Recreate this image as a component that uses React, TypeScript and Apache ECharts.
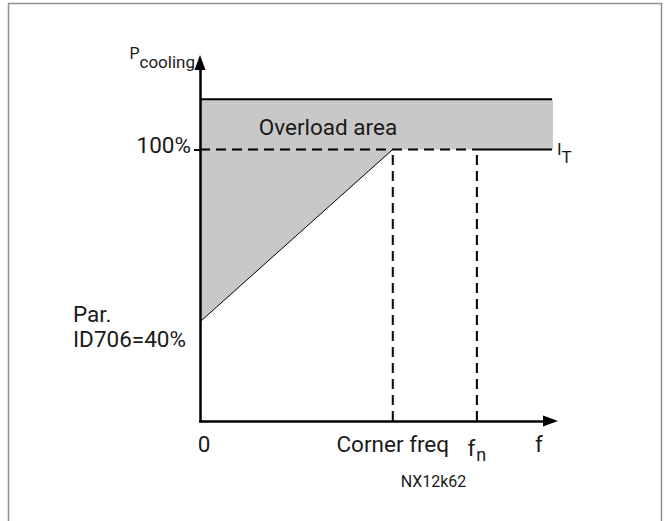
import React, { useEffect, useRef } from "react";
import * as echarts from "echarts";

// ---- values (x: frequency units, y: % cooling power) ----
const xMax = 100;
const yMax = 132;
const cornerFreq = 55;
const nominalFreq = 79;
const overloadEnd = 100.7;
const ratedLevel = 100;
const overloadTop = 118.5;
const minCooling = 36.5;
const overloadLabelPos = [36.5, 108.3];

const xTickValues = [0, cornerFreq, nominalFreq, 96.7];
const xTickLabels = ["{z|0}", "Corner freq", "{b|f}{s|n}", "f"];
const yTickValues = [minCooling, ratedLevel];
const yTickLabels = ["{p|Par.}\n{p|ID706=40%}", "{n|100%}"];

const overloadPolygon = [
  [0, overloadTop],
  [overloadEnd, overloadTop],
  [overloadEnd, ratedLevel],
  [cornerFreq, ratedLevel],
  [0, minCooling],
];
const overloadTopLine = [[0, overloadTop], [overloadEnd, overloadTop]];
const ratedDashedLine = [[0, ratedLevel], [nominalFreq, ratedLevel]];
const ratedSolidLine = [[nominalFreq, ratedLevel], [overloadEnd, ratedLevel]];
const minToCornerLine = [[0, minCooling], [cornerFreq, ratedLevel]];
const cornerVertical = [[cornerFreq, 0], [cornerFreq, ratedLevel]];
const nominalVertical = [[nominalFreq, 0], [nominalFreq, ratedLevel]];

const FONT = "Roboto";
const TEXT = "#1a1a1a";
const FS = 22.5;
const txt = (size: number, extra: any = {}) => ({
  fontFamily: FONT,
  fontSize: size,
  color: TEXT,
  ...extra,
});

const pickLabel = (values: number[], labels: string[], v: number) => {
  let best = 0;
  for (let i = 1; i < values.length; i++) {
    if (Math.abs(values[i] - v) < Math.abs(values[best] - v)) best = i;
  }
  return labels[best];
};

const lineSeries = (data: number[][], width: number, dashed: boolean, extra: any = {}) => ({
  type: "line",
  data,
  symbol: "none",
  clip: false,
  silent: true,
  z: 3,
  lineStyle: { color: "#000", width, type: dashed ? [10, 6] : "solid", cap: "butt" },
  ...extra,
});

export default function App() {
  const ref = useRef<HTMLDivElement>(null);

  useEffect(() => {
    if (!ref.current) return;
    const chart = echarts.init(ref.current, null, { renderer: "svg" });
    chart.setOption({
      animation: false,
      backgroundColor: "#fff",
      grid: {
        left: 200,
        right: 117.5,
        top: 62.5,
        bottom: 100,
        containLabel: false,
        outerBoundsMode: "none",
      },
      xAxis: {
        type: "value",
        min: 0,
        max: xMax,
        z: 10,
        axisLine: {
          show: true,
          onZero: false,
          lineStyle: { color: "#000", width: 2.5 },
          symbol: ["none", "triangle"],
          symbolSize: [11, 15],
        },
        axisTick: { show: false },
        splitLine: { show: false },
        axisLabel: {
          customValues: xTickValues,
          margin: 11,
          fontFamily: FONT,
          fontSize: FS,
          color: TEXT,
          formatter: (v: number) => pickLabel(xTickValues, xTickLabels, v),
          rich: {
            z: txt(FS, { padding: [0, 0, 0, 8] }),
            b: txt(FS),
            s: txt(18, { padding: [13, 0, 0, 1] }),
          },
        },
      },
      yAxis: {
        type: "value",
        min: 0,
        max: yMax,
        z: 10,
        name: "{p|P}{c|cooling}",
        nameLocation: "end",
        nameGap: 9,
        nameTextStyle: {
          align: "right",
          verticalAlign: "middle",
          padding: [0, 5, 0, 0],
          rich: {
            p: txt(16),
            c: txt(17, { padding: [17, 0, 0, 0] }),
          },
        },
        axisLine: {
          show: true,
          lineStyle: { color: "#000", width: 2.5 },
          symbol: ["none", "triangle"],
          symbolSize: [11, 15],
        },
        axisTick: {
          show: true,
          customValues: [ratedLevel],
          length: 6,
          lineStyle: { color: "#000", width: 2 },
        },
        splitLine: { show: false },
        axisLabel: {
          customValues: yTickValues,
          margin: 9,
          fontFamily: FONT,
          fontSize: FS,
          color: TEXT,
          formatter: (v: number) => pickLabel(yTickValues, yTickLabels, v),
          rich: {
            n: txt(FS, { padding: [0, 0, 8, 0] }),
            p: txt(FS, { width: 118, align: "left", lineHeight: 25, padding: [10, 0, 0, 0] }),
          },
        },
      },
      graphic: [
        {
          type: "rect",
          silent: true,
          shape: { x: 8.5, y: 3.5, width: 653, height: 600 },
          style: { fill: "none", stroke: "#8f8f8f", lineWidth: 1.5 },
        },
        {
          type: "text",
          silent: true,
          x: 433.5,
          y: 481,
          style: {
            text: "NX12k62",
            fontFamily: FONT,
            fontSize: 16,
            fill: TEXT,
            align: "center",
            verticalAlign: "middle",
          },
        },
      ],
      series: [
        {
          type: "custom",
          coordinateSystem: "cartesian2d",
          data: [[0, 0]],
          clip: false,
          silent: true,
          z: 1,
          renderItem: (_params: any, api: any) => {
            const c = api.coord(overloadLabelPos);
            return {
              type: "group",
              children: [
                {
                  type: "polygon",
                  shape: { points: overloadPolygon.map((p) => api.coord(p)) },
                  style: { fill: "#c8c8c8", stroke: "none" },
                },
                {
                  type: "text",
                  x: c[0],
                  y: c[1],
                  style: {
                    text: "Overload area",
                    fontFamily: FONT,
                    fontSize: FS,
                    fill: TEXT,
                    align: "center",
                    verticalAlign: "middle",
                  },
                },
              ],
            };
          },
        },
        lineSeries(overloadTopLine, 2, false),
        lineSeries(ratedDashedLine, 2, true),
        lineSeries(ratedSolidLine, 2, false, {
          endLabel: {
            show: true,
            distance: 5,
            formatter: "{i|I}{t|T}",
            rich: {
              i: txt(17),
              t: txt(17, { padding: [16, 0, 0, 0] }),
            },
          },
        }),
        lineSeries(minToCornerLine, 1, false),
        lineSeries(cornerVertical, 2, true),
        lineSeries(nominalVertical, 2, true),
      ],
    });
    return () => chart.dispose();
  }, []);

  return (
    <div
      ref={ref}
      style={{ position: "absolute", left: 0, top: 0, width: 668, height: 521 }}
    />
  );
}
